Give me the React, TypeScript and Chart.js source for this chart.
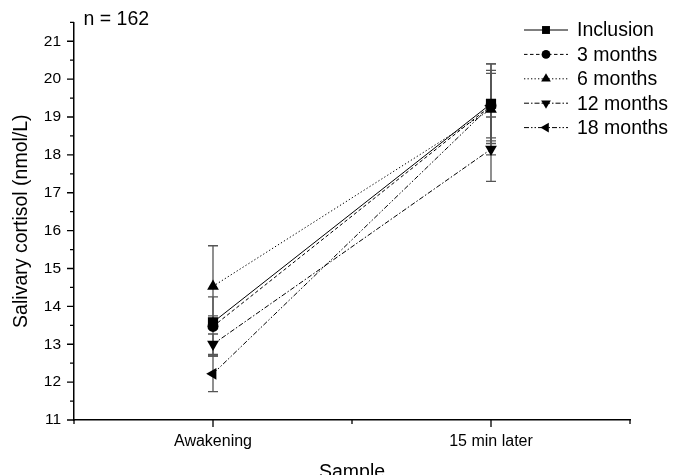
import { useEffect, useRef } from 'react';
import { Chart, registerables } from 'chart.js';

Chart.register(...registerables);

// ---------- data ----------
const categories = ['Awakening', '15 min later'];
const seriesNames = ['Inclusion', '3 months', '6 months', '12 months', '18 months'];
const inclusion = [13.58, 19.35];
const months3 = [13.47, 19.3];
const months6 = [14.53, 19.2];
const months12 = [13.0, 18.15];
const months18 = [12.22, 19.3];
const inclusionErr = [0.17, 1.05];
const months3Err = [0.78, 0.93];
const months6Err = [1.07, 1.2];
const months12Err = [0.27, 0.85];
const months18Err = [0.47, 0.85];
const yMin = 11;
const yMax = 21.5;
const yStep = 0.5;
const sampleNote = 'n = 162';
const xTitle = 'Sample';
const yTitle = 'Salivary cortisol (nmol/L)';

const seriesValues = [inclusion, months3, months6, months12, months18];
const seriesErrors = [inclusionErr, months3Err, months6Err, months12Err, months18Err];
const xPositions = categories.map((_, i) => i + 1);

// ---------- styles ----------
const FONT = '"Liberation Sans", Arial, sans-serif';
const markerStyles: { style: string; rotation: number; radius: number; legendRadius: number }[] = [
  { style: 'rect', rotation: 0, radius: 7.2, legendRadius: 5.6 },
  { style: 'circle', rotation: 0, radius: 5.5, legendRadius: 4.4 },
  { style: 'triangle', rotation: 0, radius: 6.8, legendRadius: 5.6 },
  { style: 'triangle', rotation: 180, radius: 6.8, legendRadius: 5.6 },
  { style: 'triangle', rotation: 270, radius: 6.8, legendRadius: 5.6 },
];
const dashes: number[][] = [[], [3.5, 2.5], [1.3, 2.2], [5, 2, 1.5, 2], [5, 2, 1.5, 2, 1.5, 2]];

function drawMarker(ctx: CanvasRenderingContext2D, style: string, rotation: number, x: number, y: number, r: number) {
  ctx.beginPath();
  if (style === 'circle') {
    ctx.arc(x, y, r, 0, Math.PI * 2);
  } else if (style === 'rect') {
    const s = r * Math.SQRT1_2;
    ctx.rect(x - s, y - s, 2 * s, 2 * s);
  } else {
    let rad = (rotation * Math.PI) / 180;
    ctx.moveTo(x + Math.sin(rad) * r, y - Math.cos(rad) * r);
    rad += (2 * Math.PI) / 3;
    ctx.lineTo(x + Math.sin(rad) * r, y - Math.cos(rad) * r);
    rad += (2 * Math.PI) / 3;
    ctx.lineTo(x + Math.sin(rad) * r, y - Math.cos(rad) * r);
    ctx.closePath();
  }
  ctx.fill();
}

const decorPlugin = {
  id: 'decor',
  beforeDatasetsDraw(chart: any) {
    const ctx: CanvasRenderingContext2D = chart.ctx;
    const xs = chart.scales.x;
    const ys = chart.scales.y;
    ctx.save();
    ctx.strokeStyle = '#555';
    ctx.lineWidth = 1.3;
    seriesValues.forEach((vals, i) => {
      const errs = seriesErrors[i];
      vals.forEach((v, j) => {
        const x = xs.getPixelForValue(xPositions[j]);
        const yt = ys.getPixelForValue(v + errs[j]);
        const yb = ys.getPixelForValue(v - errs[j]);
        ctx.beginPath();
        ctx.moveTo(x, yt);
        ctx.lineTo(x, yb);
        ctx.moveTo(x - 5, yt);
        ctx.lineTo(x + 5, yt);
        ctx.moveTo(x - 5, yb);
        ctx.lineTo(x + 5, yb);
        ctx.stroke();
      });
    });
    ctx.restore();
  },
  afterDraw(chart: any) {
    const ctx: CanvasRenderingContext2D = chart.ctx;
    const xs = chart.scales.x;
    const ys = chart.scales.y;
    const area = chart.chartArea;
    ctx.save();
    // tick marks
    ctx.strokeStyle = '#000';
    ctx.lineWidth = 1.3;
    ctx.beginPath();
    ys.ticks.forEach((t: any) => {
      const py = ys.getPixelForValue(t.value);
      const len = Number.isInteger(t.value) ? 7 : 4;
      ctx.moveTo(area.left - len, py);
      ctx.lineTo(area.left, py);
    });
    xs.ticks.forEach((t: any) => {
      const px = xs.getPixelForValue(t.value);
      const len = Number.isInteger(t.value) ? 7 : 4;
      ctx.moveTo(px, area.bottom);
      ctx.lineTo(px, area.bottom + len);
    });
    ctx.stroke();

    // note
    ctx.fillStyle = '#000';
    ctx.font = `19.5px ${FONT}`;
    ctx.textBaseline = 'middle';
    ctx.textAlign = 'left';
    ctx.fillText(sampleNote, area.left + 9.5, 20);

    // legend
    const lx0 = area.right - 106;
    const lx1 = area.right - 62;
    const mx = (lx0 + lx1) / 2;
    seriesNames.forEach((name, i) => {
      const y = 30 + i * 24.4;
      ctx.save();
      ctx.strokeStyle = '#000';
      ctx.lineWidth = 1;
      ctx.setLineDash(dashes[i]);
      ctx.beginPath();
      ctx.moveTo(lx0, y);
      ctx.lineTo(lx1, y);
      ctx.stroke();
      ctx.restore();
      const m = markerStyles[i];
      ctx.fillStyle = '#000';
      drawMarker(ctx, m.style, m.rotation, mx, y, m.legendRadius);
      ctx.font = `19.5px ${FONT}`;
      ctx.textBaseline = 'middle';
      ctx.fillText(name, area.right - 53, y + 1);
    });
    ctx.restore();
  },
};

export default function App() {
  const canvasRef = useRef<HTMLCanvasElement | null>(null);

  useEffect(() => {
    if (!canvasRef.current) return;
    Chart.defaults.color = '#000';
    const datasets = seriesNames.map((name, i) => ({
      label: name,
      data: seriesValues[i].map((v, j) => ({ x: xPositions[j], y: v })),
      borderColor: '#000',
      backgroundColor: '#000',
      borderWidth: 1,
      borderDash: dashes[i],
      pointStyle: markerStyles[i].style as any,
      pointRotation: markerStyles[i].rotation,
      pointRadius: markerStyles[i].radius,
      pointBorderWidth: 0,
      pointBackgroundColor: '#000',
      pointBorderColor: '#000',
      showLine: true,
      tension: 0,
      fill: false,
    }));

    const chart = new Chart(canvasRef.current, {
      type: 'line',
      data: { datasets },
      plugins: [decorPlugin],
      options: {
        animation: false,
        responsive: false,
        devicePixelRatio: 1,
        layout: { padding: { top: 10.5, right: 56, left: 0, bottom: 0 } },
        plugins: { legend: { display: false }, tooltip: { enabled: false } },
        scales: {
          x: {
            type: 'linear',
            min: 0.5,
            max: 2.5,
            afterFit: (s: any) => {
              s.height = 55;
            },
            afterBuildTicks: (s: any) => {
              const t = [];
              for (let v = 0.5; v <= 2.5 + 1e-9; v += 0.5) t.push({ value: v });
              s.ticks = t;
            },
            ticks: {
              autoSkip: false,
              maxRotation: 0,
              padding: 12,
              font: { family: FONT, size: 16 },
              color: '#000',
              callback: (v: any) => (Number.isInteger(v) ? categories[v - 1] ?? '' : ''),
            },
            grid: { display: true, drawOnChartArea: false, drawTicks: false },
            border: { display: true, color: '#000', width: 1.5 },
            title: {
              display: true,
              text: xTitle,
              font: { family: FONT, size: 19.5 },
              color: '#000',
              padding: { top: 0, bottom: -9 },
            },
          },
          y: {
            type: 'linear',
            min: yMin,
            max: yMax,
            afterFit: (s: any) => {
              s.width = 74;
            },
            ticks: {
              stepSize: yStep,
              autoSkip: false,
              padding: 13,
              font: { family: FONT, size: 15.5 },
              color: '#000',
              callback: (v: any) => (Number.isInteger(v) ? String(v) : ''),
            },
            grid: { display: true, drawOnChartArea: false, drawTicks: false },
            border: { display: true, color: '#000', width: 1.5 },
            title: {
              display: true,
              text: yTitle,
              font: { family: FONT, size: 19.5 },
              color: '#000',
              padding: { top: 10, bottom: 0 },
            },
          },
        },
      },
    });
    return () => chart.destroy();
  }, []);

  return (
    <div style={{ position: 'absolute', left: 0, top: 0, width: 686, height: 475, background: '#fff' }}>
      <canvas ref={canvasRef} width={686} height={475} style={{ display: 'block' }} />
    </div>
  );
}
